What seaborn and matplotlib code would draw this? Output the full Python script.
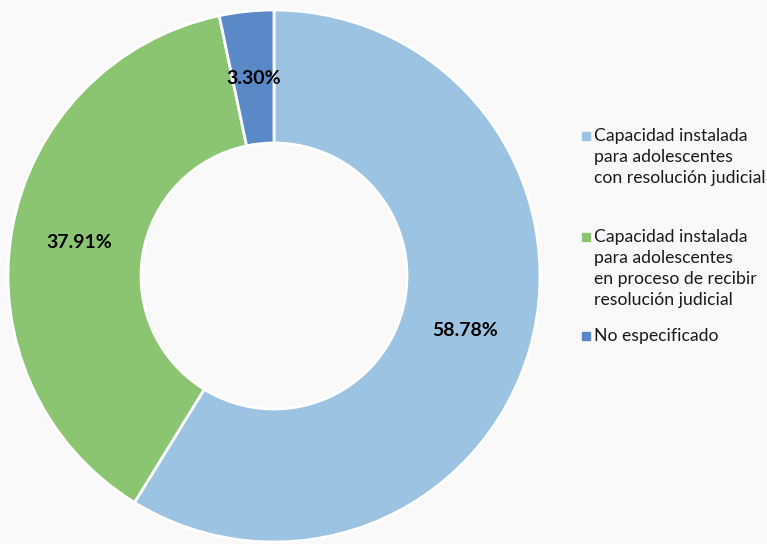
import numpy as np
import matplotlib.pyplot as plt
import seaborn as sns
from matplotlib.lines import Line2D

# Data
categories = [
    'Capacidad instalada\npara adolescentes\ncon resolución judicial',
    'Capacidad instalada\npara adolescentes\nen proceso de recibir\nresolución judicial',
    'No especificado',
]
values = [58.78, 37.91, 3.30]
labels = ['58.78%', '37.91%', '3.30%']
colors = ['#9dc3e2', '#8cc572', '#5b88c6']

sns.set_theme(style='white')
plt.rcParams['font.family'] = ['Lato', 'DejaVu Sans']

W, H = 767, 544
fig = plt.figure(figsize=(W / 100, H / 100), dpi=100)
fig.patch.set_facecolor('#f9f9f9')

# donut centre and radius in pixels
cx, cy, r = 274, 276, 266
ax = fig.add_axes([(cx - r) / W, (H - cy - r) / H, 2 * r / W, 2 * r / H])
ax.set_facecolor('#f9f9f9')

wedges, _ = ax.pie(
    values, colors=colors, startangle=90, counterclock=False,
    wedgeprops=dict(width=0.5, edgecolor='white', linewidth=2),
)
for w, lab in zip(wedges, labels):
    ang = np.deg2rad((w.theta1 + w.theta2) / 2)
    ax.text(0.745 * np.cos(ang), 0.745 * np.sin(ang), lab,
            ha='center', va='center', fontsize=14, fontweight='bold', color='black')
ax.set_xlim(-1, 1)
ax.set_ylim(-1, 1)
ax.set_aspect('equal')
ax.axis('off')

# legend: marker aligned with the first line of each label
entry_y = [136, 237, 336]
for c, lab, y in zip(colors, categories, entry_y):
    fig.add_artist(Line2D([586 / W], [1 - y / H], marker='s', color='none',
                          markerfacecolor=c, markeredgecolor=c, markersize=5.5,
                          transform=fig.transFigure))
    fig.text(594 / W, 1 - (y - 8) / H, lab, ha='left', va='top',
             fontsize=12.7, linespacing=1.38, color='#1a1a1a')

fig.savefig('out.png', dpi=100, facecolor=fig.get_facecolor())
